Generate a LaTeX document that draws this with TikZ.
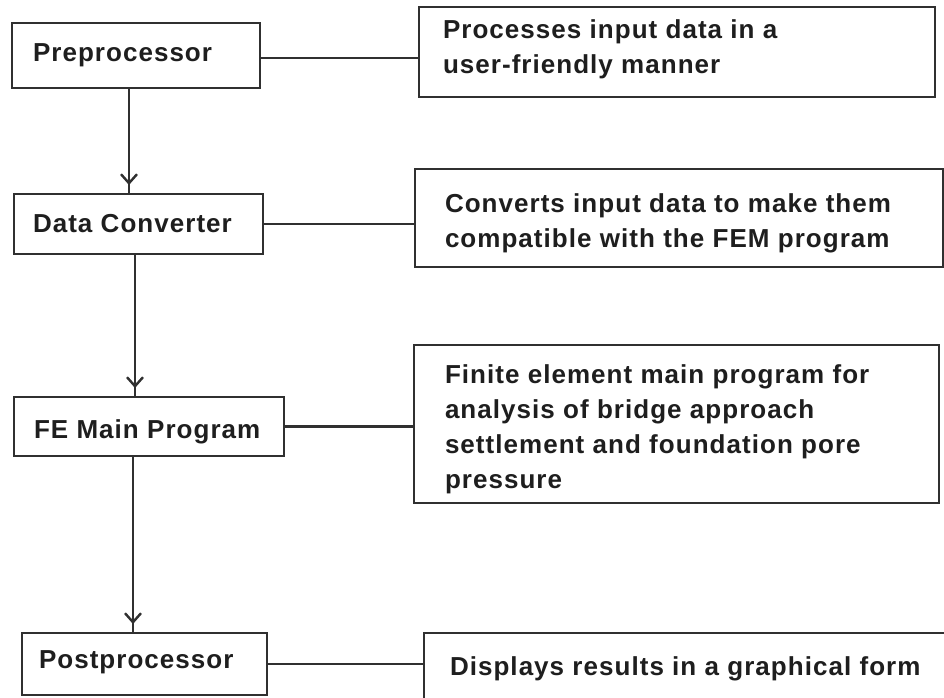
\documentclass[tikz,border=0pt]{standalone}
\usepackage{fontspec}
\setmainfont{Liberation Sans}[LetterSpace=4]
\usetikzlibrary{arrows.meta,decorations.markings}
\definecolor{inkline}{HTML}{303030}
\definecolor{inktext}{HTML}{1E1E1E}

\begin{document}
\begin{tikzpicture}[x=1pt,y=-1pt,
  frame/.style={draw=inkline, line width=2.4pt, inner sep=0pt, outer sep=0pt, anchor=north west},
  lbl/.style={text=inktext, font=\fontsize{26}{35}\selectfont\bfseries, inner sep=0pt, outer sep=0pt, anchor=north west, align=left},
  link/.style={draw=inkline, line width=2.4pt},
  flow/.style={link, postaction={decorate},
    decoration={markings, mark=at position -9pt with {\arrow[inkline]{Straight Barb[length=9pt,width=16pt]}}}}
]
\useasboundingbox (0,0) rectangle (944,697);
\fill[white] (0,0) rectangle (944,697);
\clip (0,0) rectangle (944,697);

% program stages (left column)
\node[frame, minimum width=248pt, minimum height=65pt] (pre)  at (12,23)  {};
\node[frame, minimum width=249pt, minimum height=60pt] (conv) at (14,194) {};
\node[frame, minimum width=270pt, minimum height=59pt] (fem)  at (14,397) {};
\node[frame, minimum width=245pt, minimum height=62pt] (post) at (22,633) {};

\node[lbl] (preT)  at (33,36.5)  {\strut Preprocessor};
\node[lbl] (convT) at (33,207.5) {\strut Data Converter};
\node[lbl] (femT)  at (34,413.5) {\strut FE Main Program};
\node[lbl] (postT) at (39,643.5) {\strut Postprocessor};

% descriptions (right column)
\node[frame, minimum width=516pt, minimum height=90pt]  (d1) at (419,7)   {};
\node[frame, minimum width=528pt, minimum height=98pt]  (d2) at (415,169) {};
\node[frame, minimum width=525pt, minimum height=158pt] (d3) at (414,345) {};
\node[frame, minimum width=528pt, minimum height=80pt]  (d4) at (424,633) {};

\node[lbl] (d1T) at (443,13.5)  {\strut Processes input data in a\\\strut user-friendly manner};
\node[lbl] (d2T) at (445,187.5) {\strut Converts input data to make them\\\strut compatible with the FEM program};
\node[lbl] (d3T) at (445,358.5) {\strut Finite element main program for\\\strut analysis of bridge approach\\\strut settlement and foundation pore\\\strut pressure};
\node[lbl] (d4T) at (450,650.5) {\strut Displays results in a graphical form};

% links between stages and descriptions
\coordinate (preOut) at ([yshift=-2.5pt]pre.east);
\draw[link] (preOut) -- (preOut -| d1.west);
\draw[link] (conv.east) -- (conv.east -| d2.west);
\draw[link] (fem.east) -- (fem.east -| d3.west);
\draw[link] (post.east) -- (post.east -| d4.west);

% flow arrows
\coordinate (f1) at ([xshift=-7pt]pre.south);
\coordinate (f2) at ([xshift=-3.5pt]conv.south);
\coordinate (f3) at ([xshift=-16pt]fem.south);
\draw[flow] (f1) -- (f1 |- conv.north);
\draw[flow] (f2) -- (f2 |- fem.north);
\draw[flow] (f3) -- (f3 |- post.north);
\end{tikzpicture}
\end{document}
